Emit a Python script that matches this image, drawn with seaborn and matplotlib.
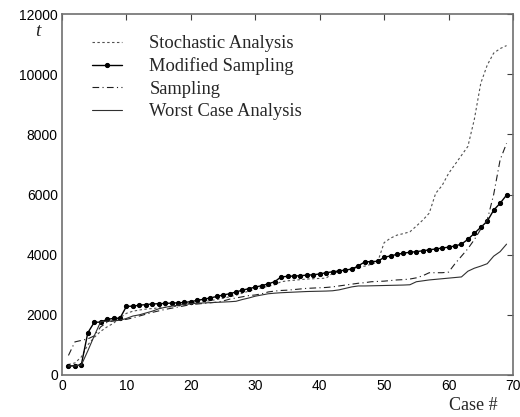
import numpy as np
import pandas as pd
import matplotlib
matplotlib.use("Agg")
import matplotlib.pyplot as plt
import seaborn as sns

cases = list(range(1, 70))

stochastic = [350, 400, 600, 1000, 1250, 1450, 1600, 1720, 1900, 2050,
              2120, 2160, 2190, 2210, 2230, 2250, 2270, 2290, 2330, 2380,
              2410, 2440, 2470, 2510, 2550, 2600, 2650, 2720, 2790, 2850,
              2900, 2950, 3000, 3100, 3130, 3150, 3170, 3190, 3200, 3210,
              3220, 3380, 3430, 3480, 3530, 3580, 3620, 3680, 3760, 4400,
              4550, 4650, 4700, 4760, 4950, 5150, 5380, 6040, 6300, 6700,
              7000, 7300, 7600, 8500, 9700, 10300, 10700, 10850, 10950]

modified = [300, 310, 340, 1400, 1750, 1760, 1850, 1880, 1890, 2280,
            2290, 2320, 2340, 2360, 2370, 2380, 2390, 2400, 2410, 2440,
            2480, 2520, 2560, 2610, 2660, 2700, 2760, 2820, 2870, 2920,
            2970, 3030, 3100, 3260, 3280, 3290, 3300, 3320, 3330, 3360,
            3400, 3430, 3460, 3490, 3520, 3630, 3760, 3770, 3780, 3910,
            3960, 4010, 4050, 4080, 4100, 4130, 4160, 4190, 4220, 4250,
            4290, 4350, 4510, 4710, 4910, 5110, 5480, 5710, 5980]

sampling = [650, 1100, 1150, 1200, 1300, 1600, 1750, 1800, 1830, 1850,
            1900, 1960, 2020, 2080, 2130, 2180, 2220, 2260, 2300, 2340,
            2360, 2380, 2400, 2420, 2460, 2520, 2560, 2600, 2640, 2660,
            2700, 2760, 2790, 2810, 2820, 2840, 2860, 2880, 2890, 2900,
            2910, 2930, 2960, 2990, 3020, 3050, 3070, 3100, 3110, 3120,
            3140, 3160, 3170, 3190, 3230, 3300, 3400, 3400, 3400, 3420,
            3700, 3950, 4200, 4500, 4850, 5150, 6000, 7150, 7700]

worst = [300, 300, 330, 800, 1300, 1770, 1790, 1800, 1820, 1880,
         1960, 2000, 2060, 2120, 2200, 2250, 2290, 2320, 2350, 2370,
         2385, 2395, 2405, 2415, 2425, 2435, 2450, 2510, 2560, 2620,
         2660, 2700, 2720, 2735, 2745, 2755, 2765, 2775, 2780, 2785,
         2790, 2800, 2830, 2880, 2930, 2960, 2960, 2965, 2970, 2975,
         2980, 2985, 2990, 3000, 3100, 3130, 3160, 3180, 3200, 3220,
         3240, 3260, 3450, 3550, 3620, 3700, 3950, 4100, 4350]

series_names = ["Stochastic Analysis", "Modified Sampling", "Sampling",
                "Worst Case Analysis"]
x_ticks = [0, 10, 20, 30, 40, 50, 60, 70]
y_ticks = [0, 2000, 4000, 6000, 8000, 10000, 12000]

sns.set_theme(style="white")
plt.rcParams["font.family"] = ["Liberation Sans", "DejaVu Sans"]

fig = plt.figure(figsize=(5.2, 4.17), dpi=100)
ax = fig.add_axes([62 / 520, 1 - 375 / 417, 451 / 520, 361 / 417])

styles = [
    dict(color="#505050", linestyle=(0, (2.2, 2.2)), linewidth=0.8),
    dict(color="black", linestyle="-", linewidth=1.0, marker="o",
         markersize=3.0, markerfacecolor="black", markeredgecolor="black"),
    dict(color="#202020", linestyle=(0, (6, 3, 1, 3)), linewidth=0.8),
    dict(color="#303030", linestyle="-", linewidth=0.8),
]

for name, vals, st in zip(series_names, [stochastic, modified, sampling, worst], styles):
    df = pd.DataFrame({"case": cases, "t": vals})
    sns.lineplot(data=df, x="case", y="t", ax=ax, label=name, **st)

ax.set_xlim(0, 70)
ax.set_ylim(0, 12000)
ax.set_xticks(x_ticks)
ax.set_yticks(y_ticks)
ax.set_xticklabels([str(v) for v in x_ticks])
ax.set_yticklabels([str(v) for v in y_ticks])
ax.set_xlabel("")
ax.set_ylabel("")
ax.tick_params(direction="in", length=4, width=0.8, colors="#404040",
               top=True, right=True, labelsize=10, pad=3, labelcolor="black")
for sp in ax.spines.values():
    sp.set_color("#707070")
    sp.set_linewidth(1.2)

leg = ax.legend(loc="upper left", bbox_to_anchor=(30 / 451, 1 - 21 / 361),
                frameon=False, borderaxespad=0, borderpad=0,
                handlelength=1.6, handletextpad=1.5, labelspacing=0.3,
                prop={"family": "Liberation Serif", "size": 13.3})

fig.text(38 / 520, 1 - 32 / 417, "t", family="Liberation Serif", style="italic",
         size=14, ha="center", va="center")
fig.text(473 / 520, 1 - 405 / 417, "Case #", family="Liberation Serif",
         size=13, ha="center", va="center")

fig.savefig("out.png", dpi=100)
